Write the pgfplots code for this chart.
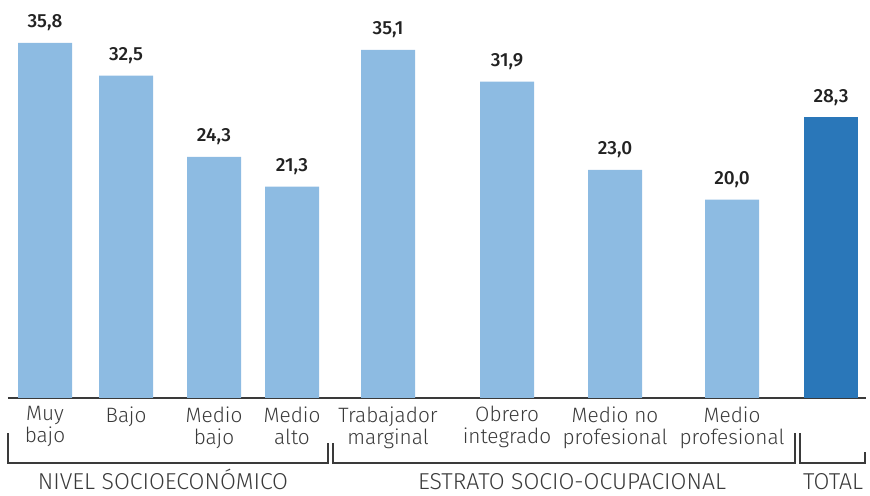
\documentclass[border=0pt]{standalone}
\usepackage{fontspec}
\setmainfont{Fira Sans}[UprightFont=* Light, BoldFont=* Medium]
\usepackage{pgfplots}
\pgfplotsset{compat=1.18}
\definecolor{barlight}{HTML}{8DBBE2}
\definecolor{bardark}{HTML}{2A77B9}
\definecolor{labelgray}{HTML}{3A3A3A}
\definecolor{valuegray}{HTML}{222222}

\begin{document}
\begin{tikzpicture}
\begin{axis}[
	x=0.5pt, y=4.96pt,
	xmin=8, xmax=866, ymin=0, ymax=40,
	axis x line=bottom, axis y line=none,
	x axis line style={-, line width=1pt, draw=labelgray},
	xtick={45,126,214,292,388,507,615,732,831},
	xticklabels={Muy\\bajo, Bajo, Medio\\bajo, Medio\\alto, Trabajador\\marginal,
		Obrero\\integrado, Medio no\\profesional, Medio\\profesional, {}},
	major tick length=0pt,
	xticklabel style={align=center, font=\fontsize{10.4}{11}\selectfont, text=labelgray,
		anchor=north, inner sep=0pt, yshift=-4pt},
	clip=false,
	bar width=54,
	nodes near coords,
	nodes near coords style={font=\bfseries\fontsize{9.5}{10}\selectfont, text=valuegray,
		anchor=base, yshift=7.5pt,
		/pgf/number format/.cd, fixed, fixed zerofill, precision=1, use comma,
		assume math mode=true},
]
\addplot[ybar, bar shift=0pt, fill=barlight, draw=none] coordinates {
	(45,35.8) (126,32.5) (214,24.3) (292,21.3)
	(388,35.1) (507,31.9) (615,23.0) (732,20.0)
};
\addplot[ybar, bar shift=0pt, fill=bardark, draw=none] coordinates {(831,28.3)};

% brackets and group names
\draw[labelgray, line width=0.6pt] (axis cs:8,-3.53) |- (axis cs:328,-6.55) -- (axis cs:328,-4.54);
\draw[labelgray, line width=0.6pt] (axis cs:333,-4.54) |- (axis cs:795,-6.55) -- (axis cs:795,-3.53);
\draw[labelgray, line width=0.6pt] (axis cs:800,-3.53) |- (axis cs:865,-6.55) -- (axis cs:865,-5.44);
\path[font=\fontsize{11.5}{13}\selectfont, text=labelgray]
	(axis cs:163,-9.27) node[anchor=base] {NIVEL SOCIOECONÓMICO}
	(axis cs:572,-9.27) node[anchor=base] {ESTRATO SOCIO-OCUPACIONAL}
	(axis cs:833,-9.27) node[anchor=base] {TOTAL};

\coordinate (tl) at (axis cs:0,40.12);
\coordinate (br) at (axis cs:870,-9.88);
\end{axis}
\pgfresetboundingbox
\path (tl) rectangle (br);
\end{tikzpicture}
\end{document}
